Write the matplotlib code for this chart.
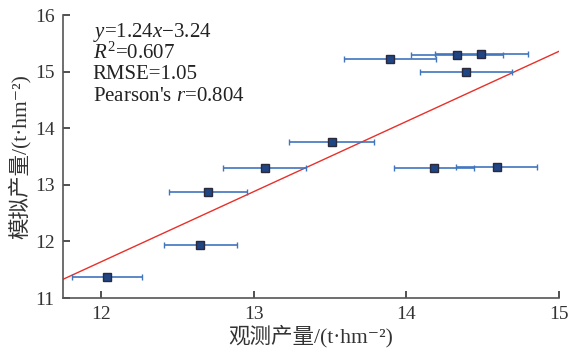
import matplotlib
matplotlib.use('agg')
import matplotlib.pyplot as plt
import numpy as np

# observed mean yield, its spread, and simulated yield (t/hm2)
obs = [12.04, 12.65, 12.70, 13.07, 13.51, 13.89, 14.33, 14.49, 14.39, 14.18, 14.59]
obs_err = [0.23, 0.24, 0.255, 0.27, 0.28, 0.30, 0.30, 0.305, 0.30, 0.265, 0.265]
sim = [11.37, 11.93, 12.88, 13.29, 13.76, 15.22, 15.29, 15.31, 14.99, 13.29, 13.32]

slope, intercept = 1.24, -3.24
stats_lines = [r'$y$=1.24$x$−3.24', r'$R^2$=0.607', 'RMSE=1.05', r"Pearson's $r$=0.804"]

plt.rcParams['font.family'] = ['Liberation Serif', 'Noto Sans CJK SC', 'DejaVu Sans']
plt.rcParams['mathtext.fontset'] = 'custom'
plt.rcParams['mathtext.rm'] = 'Liberation Serif'
plt.rcParams['mathtext.it'] = 'Liberation Serif:italic'

fig = plt.figure(figsize=(5.7, 3.53), dpi=100)
ax = fig.add_axes([0.1105, 0.1558, 0.8705, 0.8017])

xlim = (11.75, 15.0)
xs = np.array(xlim)
ax.plot(xs, slope * xs + intercept, color='#e8302a', lw=1.0, zorder=2)

ax.errorbar(obs, sim, xerr=obs_err, fmt='s', color='#3f75bd', ecolor='#3f75bd',
            elinewidth=1.2, capsize=2.5, capthick=1.2,
            markersize=5.5, markerfacecolor='#1f4585', markeredgecolor='#2a2a3a',
            markeredgewidth=1.0, zorder=3)

ax.set_xlim(*xlim)
ax.set_ylim(11, 16)
ax.set_xticks([12, 13, 14, 15])
ax.set_yticks([11, 12, 13, 14, 15, 16])

for s in ['top', 'right']:
    ax.spines[s].set_visible(False)
for s in ['left', 'bottom']:
    ax.spines[s].set_color('#555555')
    ax.spines[s].set_linewidth(1.2)
ax.tick_params(direction='in', length=5, width=1.2, color='#333333',
               labelsize=14, labelcolor='#333333', pad=6)

ax.set_xlabel('观测产量/(t·hm⁻²)', fontsize=15.5, color='#333333', labelpad=1)
ax.set_ylabel('模拟产量/(t·hm⁻²)', fontsize=15.5, color='#333333', labelpad=3)

for i, line in enumerate(stats_lines):
    ax.text(0.06, 0.98 - i * 0.078, line, transform=ax.transAxes,
            fontsize=15, color='#222222', va='top', ha='left')

plt.savefig('out.png', dpi=100)
